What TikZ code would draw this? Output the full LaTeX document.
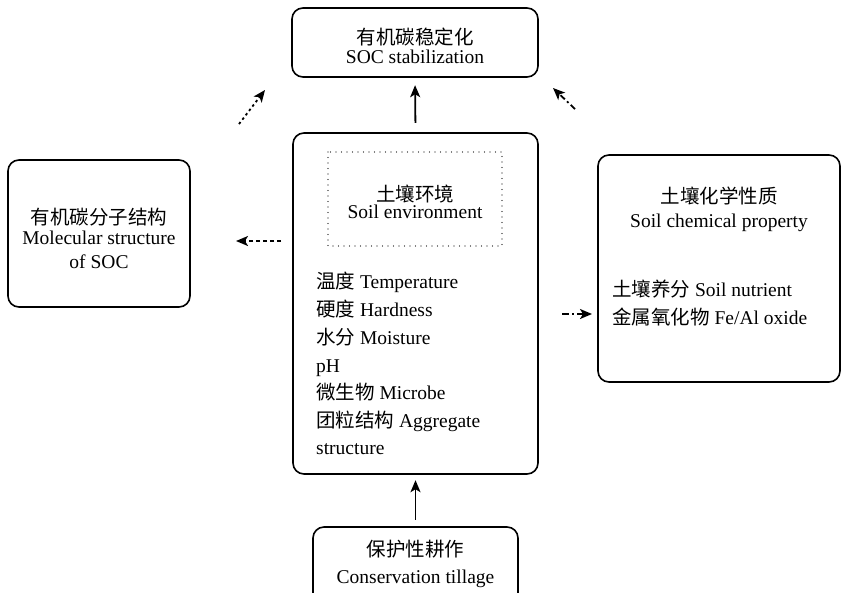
\documentclass[tikz,border=0pt]{standalone}
\usepackage{fontspec}
\setmainfont{Liberation Serif}
\newfontfamily\cjk{Noto Sans CJK SC}
\usetikzlibrary{arrows.meta}
\tikzset{
  box/.style={draw, line width=1.6pt, rounded corners=11pt, inner sep=0pt},
  conn/.style={line width=1.8pt, -{Stealth[length=12pt,width=10pt,inset=3pt]}},
  zh/.style={font=\fontsize{19.5}{20}\selectfont\cjk, inner sep=0pt, anchor=base},
  en/.style={font=\fontsize{19.5}{20}\selectfont, inner sep=0pt, anchor=base},
  item/.style={font=\fontsize{19.5}{20}\selectfont, inner sep=0pt, anchor=base west},
}
\begin{document}
\begin{tikzpicture}[x=1pt,y=-1pt]
\useasboundingbox (0,0) rectangle (845,592);
\fill[white] (0,0) rectangle (845,592);
% top box
\draw[box] (292,8) rectangle (538,77);
\node (top) at (415,42.5) [minimum width=246pt, minimum height=69pt, inner sep=0pt] {};
\node[zh] (topc) at (415,44) {有机碳稳定化};
\node[en] (tope) at (415,63) {SOC stabilization};

% centre box
\draw[box] (293,133) rectangle (538,474);
\node (ctr) at (415.5,303.5) [minimum width=245pt, minimum height=341pt, inner sep=0pt] {};
\draw[line width=1.3pt, line cap=round, dash pattern=on 0pt off 5.5pt] (328,152) rectangle (502,246);
\node[zh] (envc) at (415,201) {土壤环境};
\node[en] (enve) at (415,218) {Soil environment};
\node[item] (l1) at (316,288) {{\cjk 温度} Temperature};
\node[item] (l2) at (316,316) {{\cjk 硬度} Hardness};
\node[item] (l3) at (316,344) {{\cjk 水分} Moisture};
\node[item] (l4) at (316,372) {pH};
\node[item] (l5) at (316,399) {{\cjk 微生物} Microbe};
\node[item] (l6) at (316,427) {{\cjk 团粒结构} Aggregate};
\node[item] (l7) at (316,454) {structure};

% left box
\draw[box] (8,160) rectangle (190,307);
\node[zh] (leftc) at (99,224) {有机碳分子结构};
\node[en] (lefte1) at (99,244) {Molecular structure};
\node[en] (lefte2) at (99,268) {of SOC};

% right box
\draw[box] (598,155) rectangle (840,382);
\node[zh] (rightc) at (719,203) {土壤化学性质};
\node[en] (righte) at (719,227) {Soil chemical property};
\node[item] (r1) at (612,296) {{\cjk 土壤养分} Soil nutrient};
\node[item] (r2) at (612,324) {{\cjk 金属氧化物} Fe/Al oxide};

% bottom box
\draw[box] (313,527) rectangle (518,605);
\node (bot) at (415.5,566) [minimum width=205pt, minimum height=78pt, inner sep=0pt] {};
\node[zh] (botc) at (415.5,556) {保护性耕作};
\node[en] (bote) at (415.5,583) {Conservation tillage};

% free ends
\coordinate (ul0) at (239,124);
\coordinate (ul1) at (265,90);
\coordinate (ur0) at (575,109);
\coordinate (ur1) at (553,88);
\coordinate (lf0) at (281,241);
\coordinate (lf1) at (236,241);
\coordinate (rt0) at (562,314);
\coordinate (rt1) at (592,314);

% connectors
\draw[conn, shorten <=10pt, shorten >=8pt] (ctr.north) -- (top.south);
\draw[conn, shorten <=7pt, shorten >=6pt] (bot.north) -- (ctr.south);
\draw[conn, dash pattern=on 2.5pt off 3pt] (ul0) -- (ul1);
\draw[conn, dash pattern=on 6pt off 3pt on 2pt off 3pt] (ur0) -- (ur1);
\draw[conn, dash pattern=on 4pt off 3pt] (lf0) -- (lf1);
\draw[conn, dash pattern=on 7pt off 3pt on 2pt off 3pt] (rt0) -- (rt1);
\end{tikzpicture}
\end{document}
